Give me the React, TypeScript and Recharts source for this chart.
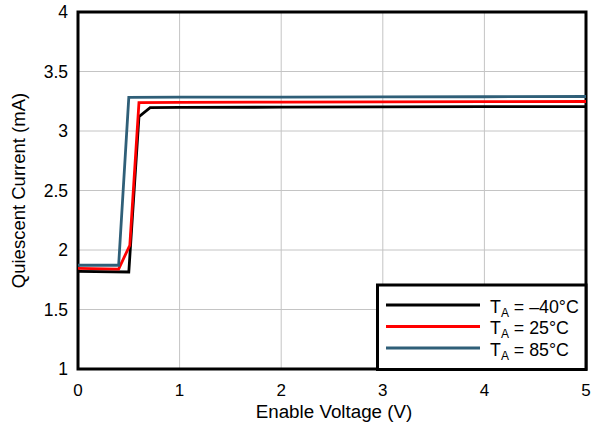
import React from 'react';
import { LineChart, Line, XAxis, YAxis, CartesianGrid, ReferenceArea, Legend, Label } from 'recharts';

const seriesNames = ['–40°C', '25°C', '85°C'];
const seriesColors = ['#000000', '#ff0000', '#2f5f78'];

const coldX = [0, 0.5, 0.6, 0.71, 1, 2, 3, 4, 5];
const coldY = [1.82, 1.815, 3.12, 3.196, 3.198, 3.2, 3.202, 3.204, 3.205];
const roomX = [0, 0.4, 0.51, 0.6, 1, 2, 3, 4, 5];
const roomY = [1.845, 1.84, 2.04, 3.238, 3.24, 3.243, 3.245, 3.247, 3.248];
const hotX = [0, 0.4, 0.5, 1, 2, 3, 4, 5];
const hotY = [1.872, 1.872, 3.283, 3.284, 3.285, 3.287, 3.288, 3.29];

const xTicks = [0, 1, 2, 3, 4, 5];
const yTicks = [1, 1.5, 2, 2.5, 3, 3.5, 4];

const toPoints = (xs: number[], ys: number[]) => xs.map((x, i) => ({ x, y: ys[i] }));
const seriesData = [toPoints(coldX, coldY), toPoints(roomX, roomY), toPoints(hotX, hotY)];

const FONT = '"Liberation Sans", Arial, sans-serif';

const LegendBox = () => (
  <svg width={212} height={88} style={{ display: 'block' }}>
    <rect x={1.5} y={2} width={208.5} height={84.5} fill="#ffffff" stroke="#000" strokeWidth={3} />
    {seriesNames.map((name, i) => {
      const cy = 22 + i * 21.5;
      return (
        <g key={name}>
          <line x1={10} x2={104} y1={cy} y2={cy} stroke={seriesColors[i]} strokeWidth={3} />
          <text x={114} y={cy + 7.5} fontSize={17.8} fontFamily={FONT} fill="#000">
            T
            <tspan fontSize={12} dy={4}>A</tspan>
            <tspan dy={-4}>{' = ' + name}</tspan>
          </text>
        </g>
      );
    })}
  </svg>
);

export default function App() {
  return (
    <div style={{ position: 'absolute', left: 0, top: 0 }}>
      <LineChart width={594} height={428} margin={{ top: 12, right: 8, bottom: 0, left: 0 }}>
        <CartesianGrid stroke="#c4c4c4" strokeWidth={1} />
        <XAxis
          type="number"
          dataKey="x"
          domain={[0, 5]}
          ticks={xTicks}
          height={59}
          tickLine={false}
          tickSize={0}
          tickMargin={15}
          axisLine={false}
          tick={{ fontSize: 17, fill: '#000', fontFamily: FONT }}
        >
          <Label
            content={(props: any) => {
              const vb = props.viewBox;
              return (
                <text x={vb.x + vb.width / 2 + 2} y={vb.y + 49} textAnchor="middle" fontSize={18.8} fontFamily={FONT} fill="#000">
                  Enable Voltage (V)
                </text>
              );
            }}
          />
        </XAxis>
        <YAxis
          type="number"
          domain={[1, 4]}
          ticks={yTicks}
          width={78}
          tickLine={false}
          tickSize={0}
          tickMargin={10}
          axisLine={false}
          tick={{ fontSize: 17.5, fill: '#000', fontFamily: FONT }}
        >
          <Label
            content={(props: any) => {
              const vb = props.viewBox;
              const cy = vb.y + vb.height / 2;
              return (
                <text x={18} y={cy} transform={`rotate(-90, 18, ${cy})`} textAnchor="middle" dominantBaseline="central" fontSize={18.5} fontFamily={FONT} fill="#000">
                  Quiescent Current (mA)
                </text>
              );
            }}
          />
        </YAxis>
        {seriesData.map((d, i) => (
          <Line
            key={seriesNames[i]}
            data={d}
            dataKey="y"
            name={seriesNames[i]}
            type="linear"
            stroke={seriesColors[i]}
            strokeWidth={2.8}
            dot={false}
            isAnimationActive={false}
          />
        ))}
        <ReferenceArea x1={0} x2={5} y1={1} y2={4} fill="none" fillOpacity={0} stroke="#000" strokeWidth={3} ifOverflow="visible" />
        <Legend
          layout="vertical"
          align="center"
          verticalAlign="middle"
          wrapperStyle={{ position: 'absolute', left: 376, top: 283, width: 212, height: 88 }}
          content={() => <LegendBox />}
        />
      </LineChart>
    </div>
  );
}
